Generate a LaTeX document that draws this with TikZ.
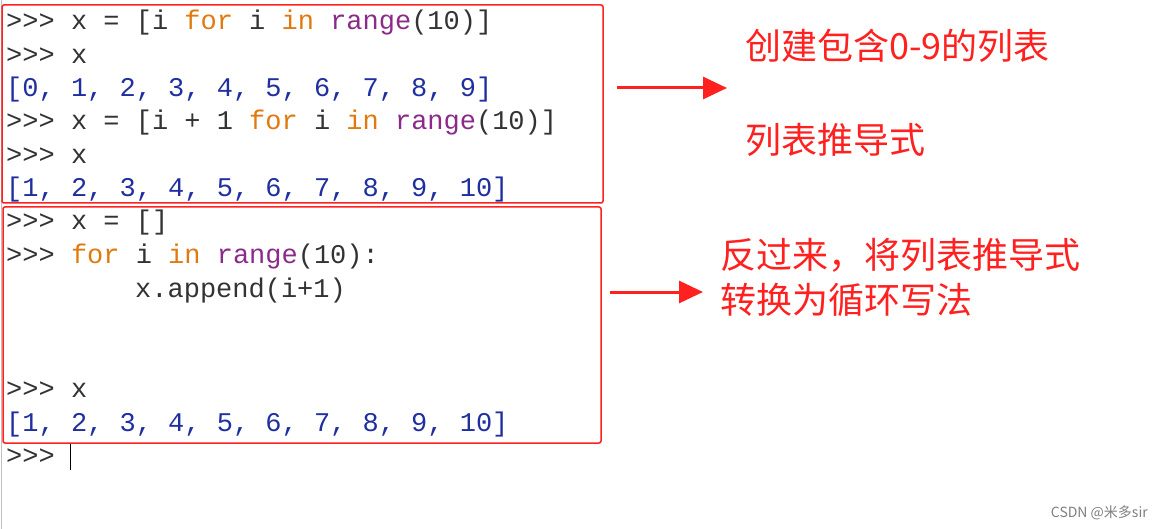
\documentclass[tikz,border=0pt]{standalone}
\usepackage{fontspec}
\usetikzlibrary{arrows.meta}
\setmonofont{Liberation Mono}
\newfontfamily\cjk{Noto Sans CJK SC}
\definecolor{kw}{HTML}{E07A10}
\definecolor{bi}{HTML}{8B2A8B}
\definecolor{outc}{HTML}{1F2FA0}
\definecolor{txt}{HTML}{333333}
\definecolor{redc}{HTML}{FF2020}
\begin{document}
\begin{tikzpicture}[x=1pt,y=-1pt,
  code/.style={anchor=base west,inner sep=0pt,font=\fontsize{27}{29}\selectfont\ttfamily,text=txt},
  note/.style={anchor=west,inner sep=0pt,font=\fontsize{36}{40}\selectfont\cjk,text=redc},
  frame/.style={draw=redc,line width=1.5pt,rounded corners=2pt},
  pointer/.style={draw=redc,line width=3pt,-{Triangle[length=24pt,width=22pt]}}]
\useasboundingbox[fill=white] (0,0) rectangle (1161,529);
\draw[gray!50] (1,0) -- (1,529);
\newcommand\kw[1]{\textcolor{kw}{#1}}
\newcommand\bi[1]{\textcolor{bi}{#1}}
\newcommand\ou[1]{\textcolor{outc}{#1}}
\node[code] (l1) at (6,30) {>>> x = [i \kw{for} i \kw{in} \bi{range}(10)]};
\node[code] (l2) at (6,63.5) {>>> x};
\node[code] (l3) at (6,97) {\ou{[0, 1, 2, 3, 4, 5, 6, 7, 8, 9]}};
\node[code] (l4) at (6,130) {>>> x = [i + 1 \kw{for} i \kw{in} \bi{range}(10)]};
\node[code] (l5) at (6,164) {>>> x};
\node[code] (l6) at (6,197) {\ou{[1, 2, 3, 4, 5, 6, 7, 8, 9, 10]}};
\node[code] (l7) at (6,230) {>>> x = []};
\node[code] (l8) at (6,264) {>>> \kw{for} i \kw{in} \bi{range}(10):};
\node[code] (l9) at (135,297) {x.append(i+1)};
\node[code] (l10) at (6,397) {>>> x};
\node[code] (l11) at (6,431) {\ou{[1, 2, 3, 4, 5, 6, 7, 8, 9, 10]}};
\node[code] (l12) at (6,464) {>>>};
\draw[black,line width=1pt] (70,444) -- (70,470);
\draw[frame] (2,5) rectangle (603,203);
\draw[frame] (3,207) rectangle (601,443);
\coordinate (a1s) at (617,88);
\coordinate (a1e) at (727,88);
\coordinate (a2s) at (610,292);
\coordinate (a2e) at (703,292);
\draw[pointer] (a1s) -- (a1e);
\draw[pointer] (a2s) -- (a2e);
\node[note] (n1) at (745,46) {创建包含0-9的列表};
\node[note] (n2) at (745,140) {列表推导式};
\node[note] (n3) at (720,255) {反过来，将列表推导式};
\node[note] (n4) at (720,300) {转换为循环写法};
\node[anchor=east,inner sep=0pt,font=\fontsize{14}{16}\selectfont\cjk,text=gray] (wm) at (1148,513) {CSDN @米多sir};
\end{tikzpicture}
\end{document}
